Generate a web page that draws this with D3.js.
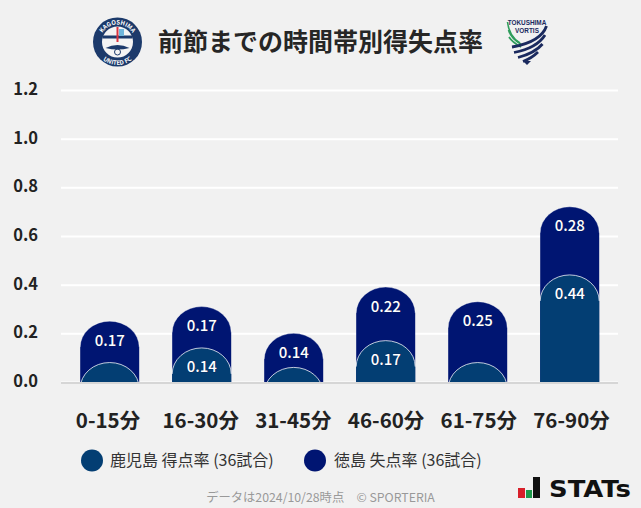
<!DOCTYPE html>
<html lang="ja">
<head>
<meta charset="utf-8" />
<title>前節までの時間帯別得失点率</title>
<style>
html,body { margin:0; padding:0; background:#f1f1f1; }
svg { display:block; }
text { font-family:"Noto Sans CJK JP","Noto Sans",sans-serif; }
</style>
<script src="https://d3js.org/d3.v7.min.js"></script>
</head>
<body>
<svg id="chart" width="641" height="508"></svg>
<script>
var categories = ["0-15分","16-30分","31-45分","46-60分","61-75分","76-90分"];
var homeValues = [0.08,0.14,0.06,0.17,0.08,0.44];
var awayValues = [0.17,0.17,0.14,0.22,0.25,0.28];
var tickLabels = [0,0.2,0.4,0.6,0.8,1.0,1.2];
var legendLabels = ["鹿児島 得点率 (36試合)","徳島 失点率 (36試合)"];
var homeColor = "#033e73", awayColor = "#001572";

var svg = d3.select("#chart");
var x = d3.scaleBand().domain(categories).range([61.8,617.6]).paddingInner(0.3587).paddingOuter(0.2);
var xLabel = d3.scalePoint().domain(categories).range([108,571.5]);
var y = d3.scaleLinear().domain([0,1.2]).range([382,90]);

// gridlines + y labels
var yAxis = d3.axisLeft(y).tickValues(tickLabels).tickSize(-557).tickFormat(d3.format(".1f")).tickPadding(23);
var gy = svg.append("g").attr("transform","translate(61,0)").call(yAxis);
gy.select(".domain").remove();
gy.selectAll(".tick line").attr("stroke","#fff").attr("stroke-width",2);
gy.selectAll(".tick text").attr("fill","#222").attr("font-size",16.5).attr("font-weight",700).attr("dy","0.27em");

var clip = svg.append("defs").append("clipPath").attr("id","plot");
clip.append("rect").attr("x",0).attr("y",0).attr("width",641).attr("height",y(0));

// bar with elliptical top, the lower part is cut off by the clip
function capPath(cx, top, closed) {
  var rx = x.bandwidth()/2, ry = 26;
  var p = "M"+(cx-rx)+","+(top+ry)+"A"+rx+","+ry+" 0 0 1 "+(cx+rx)+","+(top+ry);
  return closed ? p+"V"+(y(0)+40)+"H"+(cx-rx)+"Z" : p;
}
var bars = svg.append("g").attr("clip-path","url(#plot)");
categories.forEach(function(c,i){
  var cx = x(c)+x.bandwidth()/2;
  var topAway = y(homeValues[i]+awayValues[i]), topHome = y(homeValues[i]);
  bars.append("path").attr("d",capPath(cx,topAway,true)).attr("fill",awayColor);
  bars.append("path").attr("d",capPath(cx,topAway,false)).attr("fill","none").attr("stroke","#fff").attr("stroke-opacity",0.35).attr("stroke-width",1);
  bars.append("path").attr("d",capPath(cx,topHome,true)).attr("fill",homeColor);
  bars.append("path").attr("d",capPath(cx,topHome,false)).attr("fill","none").attr("stroke","#fff").attr("stroke-opacity",0.75).attr("stroke-width",1);
});

svg.append("line").attr("x1",61).attr("x2",618).attr("y1",y(0)+1).attr("y2",y(0)+1).attr("stroke","#d6d6d6").attr("stroke-width",2);

// value labels, small home values are not labelled
function valueLabel(cx, cy, v) {
  svg.append("text").attr("x",cx).attr("y",cy).attr("text-anchor","middle").attr("font-size",15).attr("font-weight",500)
    .attr("fill","#fff").attr("style","paint-order:stroke").attr("stroke","#10204f").attr("stroke-opacity",0.5).attr("stroke-width",1.2).text(v.toFixed(2));
}
categories.forEach(function(c,i){
  var cx = x(c)+x.bandwidth()/2;
  valueLabel(cx, y(homeValues[i]+awayValues[i])+24.5, awayValues[i]);
  if (homeValues[i] >= 0.1) valueLabel(cx, y(homeValues[i])+24, homeValues[i]);
  svg.append("text").attr("x",xLabel(c)).attr("y",428).attr("text-anchor","middle").attr("font-size",20.5).attr("font-weight",700).attr("fill","#222").text(c);
});

// title
svg.append("text").attr("x",320.5).attr("y",51).attr("text-anchor","middle").attr("font-size",25).attr("font-weight",700).attr("fill","#262626").text("前節までの時間帯別得失点率");

// legend
[[92,homeColor,110],[315,awayColor,334]].forEach(function(l,i){
  svg.append("circle").attr("cx",l[0]).attr("cy",460.5).attr("r",11).attr("fill",l[1]);
  svg.append("text").attr("x",l[2]).attr("y",466).attr("font-size",16).attr("fill","#333").text(legendLabels[i]);
});

// footer
svg.append("text").attr("x",320.5).attr("y",502).attr("text-anchor","middle").attr("font-size",12.3).attr("fill","#999").text("データは2024/10/28時点　© SPORTERIA");

// Kagoshima badge
var kg = svg.append("g").attr("transform","translate(117.5,42)");
kg.append("circle").attr("r",24.5).attr("fill","#1c3a6b");
kg.append("circle").attr("r",15.5).attr("fill","#f4f4f4");
kg.append("rect").attr("x",-15).attr("y",-6.5).attr("width",30).attr("height",3).attr("fill","#1c3a6b");
kg.append("rect").attr("x",-1).attr("y",-15).attr("width",2).attr("height",15).attr("fill","#d9333f");
kg.append("rect").attr("x",1.5).attr("y",-13).attr("width",5).attr("height",7).attr("fill","#6fb6dc");
kg.append("path").attr("d","M-12,6Q0,0 12,6Q0,9 -12,6Z").attr("fill","#1c3a6b");
kg.append("circle").attr("cy",10).attr("r",3).attr("fill","none").attr("stroke","#1c3a6b");
kg.append("path").attr("id","kgTop").attr("d","M-17.5,0A17.5,17.5 0 0 1 17.5,0").attr("fill","none");
kg.append("path").attr("id","kgBot").attr("d","M-23,0A23,23 0 0 0 23,0").attr("fill","none");
kg.append("text").attr("font-size",6).attr("font-weight",700).attr("fill","#fff").append("textPath").attr("href","#kgTop").attr("startOffset","50%").attr("text-anchor","middle").text("KAGOSHIMA");
kg.append("text").attr("font-size",6).attr("font-weight",700).attr("fill","#fff").append("textPath").attr("href","#kgBot").attr("startOffset","50%").attr("text-anchor","middle").text("UNITED FC");

// Tokushima badge
var tk = svg.append("g").attr("transform","translate(527,0)");
tk.append("text").attr("y",25).attr("text-anchor","middle").attr("font-size",6.4).attr("font-weight",700).attr("fill","#1b2a5e").attr("style","font-family:'Liberation Sans',sans-serif").text("TOKUSHIMA");
tk.append("text").attr("y",32.5).attr("text-anchor","middle").attr("font-size",6.4).attr("font-weight",700).attr("fill","#1b2a5e").attr("style","font-family:'Liberation Sans',sans-serif").text("VORTIS");
["M-19.5,22Q-18,36 -7,43","M-18.5,30Q-16,39 -5,45","M-18,37Q-15,42 -6,47"].forEach(function(d){
  tk.append("path").attr("d",d).attr("fill","none").attr("stroke","#2e9c5a").attr("stroke-width",1.6);
});
["M19.5,26Q14,42 -15,47","M18,35Q10,48 -13,52.5","M15.5,44Q8,53 -9,57.5","M11,52Q5,58 -4,61.5"].forEach(function(d){
  tk.append("path").attr("d",d).attr("fill","none").attr("stroke","#1b2a5e").attr("stroke-width",2.8);
});
tk.append("path").attr("d","M-4,61L0,65L4,61Z").attr("fill","#1b2a5e");

// STATs logo
var st = svg.append("g");
st.append("rect").attr("x",518).attr("y",488).attr("width",7).attr("height",10).attr("fill","#d8202a");
st.append("rect").attr("x",526).attr("y",490).attr("width",6).attr("height",8).attr("fill","#1d9a4b");
st.append("rect").attr("x",533).attr("y",477).attr("width",7).attr("height",21).attr("fill","#111");
st.append("text").attr("x",549).attr("y",497).attr("font-size",23).attr("fill","#111").attr("style","font-family:'DejaVu Sans',sans-serif;font-weight:700").attr("textLength",82).attr("lengthAdjust","spacingAndGlyphs").text("STATs");
</script>
</body>
</html>
